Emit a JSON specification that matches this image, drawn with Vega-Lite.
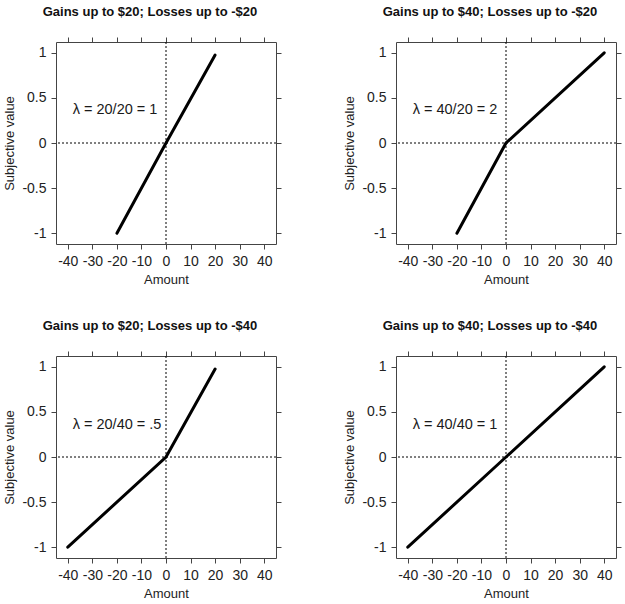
{
  "$schema": "https://vega.github.io/schema/vega-lite/v6.json",
  "background": "white",
  "padding": {"left": 3, "top": 5, "right": 5, "bottom": 5},
  "datasets": {
    "curves": [
      {"panel": "p1", "amount": -20, "value": -1},
      {"panel": "p1", "amount": 0, "value": 0},
      {"panel": "p1", "amount": 20, "value": 0.975},
      {"panel": "p2", "amount": -20, "value": -1},
      {"panel": "p2", "amount": 0, "value": 0},
      {"panel": "p2", "amount": 40, "value": 1},
      {"panel": "p3", "amount": -40, "value": -1},
      {"panel": "p3", "amount": 0, "value": 0},
      {"panel": "p3", "amount": 20, "value": 0.975},
      {"panel": "p4", "amount": -40, "value": -1},
      {"panel": "p4", "amount": 0, "value": 0},
      {"panel": "p4", "amount": 40, "value": 1}
    ],
    "labels": [
      {"panel": "p1", "amount": -38, "value": 0.37, "label": "λ = 20/20 = 1"},
      {"panel": "p2", "amount": -38, "value": 0.37, "label": "λ = 40/20 = 2"},
      {"panel": "p3", "amount": -38, "value": 0.36, "label": "λ = 20/40 = .5"},
      {"panel": "p4", "amount": -38, "value": 0.36, "label": "λ = 40/40 = 1"}
    ],
    "zero": [{"v": 0}]
  },
  "columns": 2,
  "spacing": {"column": 61, "row": 32},
  "concat": [
    {
      "title": {"text": "Gains up to $20; Losses up to -$20"},
      "width": 220, "height": 202,
      "layer": [
        {"data": {"name": "zero"}, "mark": {"type": "rule", "color": "black", "strokeWidth": 1, "strokeDash": [2, 2]},
         "encoding": {"x": {"field": "v", "type": "quantitative", "scale": {"domain": [-44.8, 44.8], "nice": false}, "axis": {"orient": "top", "labels": false, "title": null, "values": [-40, -30, -20, -10, 0, 10, 20, 30, 40]}}}},
        {"data": {"name": "zero"}, "mark": {"type": "rule", "color": "black", "strokeWidth": 1, "strokeDash": [2, 2]},
         "encoding": {"y": {"field": "v", "type": "quantitative", "scale": {"domain": [-1.12, 1.12], "nice": false}, "axis": {"orient": "right", "labels": false, "title": null, "values": [-1, -0.5, 0, 0.5, 1]}}}},
        {"data": {"name": "curves"}, "transform": [{"filter": "datum.panel === 'p1'"}],
         "mark": {"type": "line", "color": "black", "strokeWidth": 3, "strokeCap": "round"},
         "encoding": {
           "x": {"field": "amount", "type": "quantitative", "scale": {"domain": [-44.8, 44.8], "nice": false}, "axis": {"orient": "bottom", "title": "Amount", "values": [-40, -30, -20, -10, 0, 10, 20, 30, 40], "labelExpr": "'' + datum.value"}},
           "y": {"field": "value", "type": "quantitative", "scale": {"domain": [-1.12, 1.12], "nice": false}, "axis": {"orient": "left", "title": "Subjective value", "values": [-1, -0.5, 0, 0.5, 1], "labelExpr": "'' + datum.value"}}
         }},
        {"data": {"name": "labels"}, "transform": [{"filter": "datum.panel === 'p1'"}],
         "mark": {"type": "text", "align": "left", "baseline": "middle", "fontSize": 14.5, "color": "#1a1a1a"},
         "encoding": {
           "x": {"field": "amount", "type": "quantitative", "scale": {"domain": [-44.8, 44.8], "nice": false}, "axis": null},
           "y": {"field": "value", "type": "quantitative", "scale": {"domain": [-1.12, 1.12], "nice": false}, "axis": null},
           "text": {"field": "label"}
         }}
      ],
      "resolve": {"axis": {"x": "independent", "y": "independent"}}
    },
    {
      "title": {"text": "Gains up to $40; Losses up to -$20"},
      "width": 220, "height": 202,
      "layer": [
        {"data": {"name": "zero"}, "mark": {"type": "rule", "color": "black", "strokeWidth": 1, "strokeDash": [2, 2]},
         "encoding": {"x": {"field": "v", "type": "quantitative", "scale": {"domain": [-44.8, 44.8], "nice": false}, "axis": {"orient": "top", "labels": false, "title": null, "values": [-40, -30, -20, -10, 0, 10, 20, 30, 40]}}}},
        {"data": {"name": "zero"}, "mark": {"type": "rule", "color": "black", "strokeWidth": 1, "strokeDash": [2, 2]},
         "encoding": {"y": {"field": "v", "type": "quantitative", "scale": {"domain": [-1.12, 1.12], "nice": false}, "axis": {"orient": "right", "labels": false, "title": null, "values": [-1, -0.5, 0, 0.5, 1]}}}},
        {"data": {"name": "curves"}, "transform": [{"filter": "datum.panel === 'p2'"}],
         "mark": {"type": "line", "color": "black", "strokeWidth": 3, "strokeCap": "round"},
         "encoding": {
           "x": {"field": "amount", "type": "quantitative", "scale": {"domain": [-44.8, 44.8], "nice": false}, "axis": {"orient": "bottom", "title": "Amount", "values": [-40, -30, -20, -10, 0, 10, 20, 30, 40], "labelExpr": "'' + datum.value"}},
           "y": {"field": "value", "type": "quantitative", "scale": {"domain": [-1.12, 1.12], "nice": false}, "axis": {"orient": "left", "title": "Subjective value", "values": [-1, -0.5, 0, 0.5, 1], "labelExpr": "'' + datum.value"}}
         }},
        {"data": {"name": "labels"}, "transform": [{"filter": "datum.panel === 'p2'"}],
         "mark": {"type": "text", "align": "left", "baseline": "middle", "fontSize": 14.5, "color": "#1a1a1a"},
         "encoding": {
           "x": {"field": "amount", "type": "quantitative", "scale": {"domain": [-44.8, 44.8], "nice": false}, "axis": null},
           "y": {"field": "value", "type": "quantitative", "scale": {"domain": [-1.12, 1.12], "nice": false}, "axis": null},
           "text": {"field": "label"}
         }}
      ],
      "resolve": {"axis": {"x": "independent", "y": "independent"}}
    },
    {
      "title": {"text": "Gains up to $20; Losses up to -$40"},
      "width": 220, "height": 202,
      "layer": [
        {"data": {"name": "zero"}, "mark": {"type": "rule", "color": "black", "strokeWidth": 1, "strokeDash": [2, 2]},
         "encoding": {"x": {"field": "v", "type": "quantitative", "scale": {"domain": [-44.8, 44.8], "nice": false}, "axis": {"orient": "top", "labels": false, "title": null, "values": [-40, -30, -20, -10, 0, 10, 20, 30, 40]}}}},
        {"data": {"name": "zero"}, "mark": {"type": "rule", "color": "black", "strokeWidth": 1, "strokeDash": [2, 2]},
         "encoding": {"y": {"field": "v", "type": "quantitative", "scale": {"domain": [-1.12, 1.12], "nice": false}, "axis": {"orient": "right", "labels": false, "title": null, "values": [-1, -0.5, 0, 0.5, 1]}}}},
        {"data": {"name": "curves"}, "transform": [{"filter": "datum.panel === 'p3'"}],
         "mark": {"type": "line", "color": "black", "strokeWidth": 3, "strokeCap": "round"},
         "encoding": {
           "x": {"field": "amount", "type": "quantitative", "scale": {"domain": [-44.8, 44.8], "nice": false}, "axis": {"orient": "bottom", "title": "Amount", "values": [-40, -30, -20, -10, 0, 10, 20, 30, 40], "labelExpr": "'' + datum.value"}},
           "y": {"field": "value", "type": "quantitative", "scale": {"domain": [-1.12, 1.12], "nice": false}, "axis": {"orient": "left", "title": "Subjective value", "values": [-1, -0.5, 0, 0.5, 1], "labelExpr": "'' + datum.value"}}
         }},
        {"data": {"name": "labels"}, "transform": [{"filter": "datum.panel === 'p3'"}],
         "mark": {"type": "text", "align": "left", "baseline": "middle", "fontSize": 14.5, "color": "#1a1a1a"},
         "encoding": {
           "x": {"field": "amount", "type": "quantitative", "scale": {"domain": [-44.8, 44.8], "nice": false}, "axis": null},
           "y": {"field": "value", "type": "quantitative", "scale": {"domain": [-1.12, 1.12], "nice": false}, "axis": null},
           "text": {"field": "label"}
         }}
      ],
      "resolve": {"axis": {"x": "independent", "y": "independent"}}
    },
    {
      "title": {"text": "Gains up to $40; Losses up to -$40"},
      "width": 220, "height": 202,
      "layer": [
        {"data": {"name": "zero"}, "mark": {"type": "rule", "color": "black", "strokeWidth": 1, "strokeDash": [2, 2]},
         "encoding": {"x": {"field": "v", "type": "quantitative", "scale": {"domain": [-44.8, 44.8], "nice": false}, "axis": {"orient": "top", "labels": false, "title": null, "values": [-40, -30, -20, -10, 0, 10, 20, 30, 40]}}}},
        {"data": {"name": "zero"}, "mark": {"type": "rule", "color": "black", "strokeWidth": 1, "strokeDash": [2, 2]},
         "encoding": {"y": {"field": "v", "type": "quantitative", "scale": {"domain": [-1.12, 1.12], "nice": false}, "axis": {"orient": "right", "labels": false, "title": null, "values": [-1, -0.5, 0, 0.5, 1]}}}},
        {"data": {"name": "curves"}, "transform": [{"filter": "datum.panel === 'p4'"}],
         "mark": {"type": "line", "color": "black", "strokeWidth": 3, "strokeCap": "round"},
         "encoding": {
           "x": {"field": "amount", "type": "quantitative", "scale": {"domain": [-44.8, 44.8], "nice": false}, "axis": {"orient": "bottom", "title": "Amount", "values": [-40, -30, -20, -10, 0, 10, 20, 30, 40], "labelExpr": "'' + datum.value"}},
           "y": {"field": "value", "type": "quantitative", "scale": {"domain": [-1.12, 1.12], "nice": false}, "axis": {"orient": "left", "title": "Subjective value", "values": [-1, -0.5, 0, 0.5, 1], "labelExpr": "'' + datum.value"}}
         }},
        {"data": {"name": "labels"}, "transform": [{"filter": "datum.panel === 'p4'"}],
         "mark": {"type": "text", "align": "left", "baseline": "middle", "fontSize": 14.5, "color": "#1a1a1a"},
         "encoding": {
           "x": {"field": "amount", "type": "quantitative", "scale": {"domain": [-44.8, 44.8], "nice": false}, "axis": null},
           "y": {"field": "value", "type": "quantitative", "scale": {"domain": [-1.12, 1.12], "nice": false}, "axis": null},
           "text": {"field": "label"}
         }}
      ],
      "resolve": {"axis": {"x": "independent", "y": "independent"}}
    }
  ],
  "config": {
    "font": "Liberation Sans",
    "view": {"stroke": "#444", "strokeWidth": 1},
    "axis": {
      "grid": false,
      "domain": false,
      "tickColor": "#444",
      "tickSize": 5,
      "labelFontSize": 14,
      "labelColor": "#222",
      "labelPadding": 5,
      "titleFontSize": 13,
      "titleFontWeight": "normal",
      "titleColor": "#222",
      "titlePadding": 5,
      "labelFlush": false,
      "labelOverlap": false
    },
    "title": {"fontSize": 13, "fontWeight": "bold", "color": "#111", "anchor": "middle", "dx": -16, "offset": 18}
  }
}
